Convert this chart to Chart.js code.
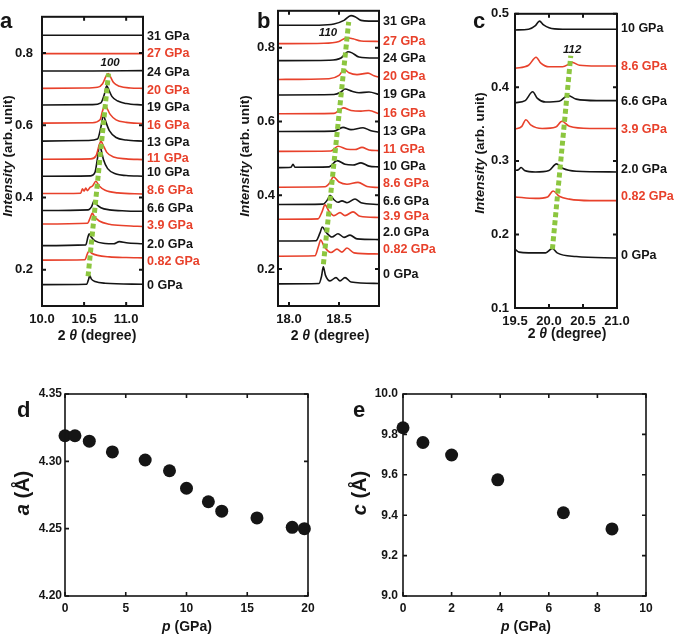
<!DOCTYPE html>
<html>
<head>
<meta charset="utf-8">
<script src="https://cdn.jsdelivr.net/npm/chart.js@4"></script>
<style>
  body { margin: 0; background: #fff; }
  #wrap { position: relative; width: 675px; height: 634px; }
  canvas { position: absolute; left: 0; top: 0; }
</style>
</head>
<body>
<div id="wrap">
  <canvas id="pa" width="675" height="634"></canvas>
  <canvas id="pb" width="675" height="634"></canvas>
  <canvas id="pc" width="675" height="634"></canvas>
  <canvas id="pd" width="675" height="634"></canvas>
  <canvas id="pe" width="675" height="634"></canvas>
</div>
<script>
// ---- panel a : 100 reflection ----
const aNames = ['31 GPa','27 GPa','24 GPa','20 GPa','19 GPa','16 GPa','13 GPa','11 GPa','10 GPa','8.6 GPa','6.6 GPa','3.9 GPa','2.0 GPa','0.82 GPa','0 GPa'];
const aNameY = [0.844,0.798,0.747,0.697,0.649,0.599,0.552,0.509,0.468,0.419,0.369,0.323,0.271,0.223,0.156];
const aTraces = [
  [[10.0,0.849],[10.6,0.849],[11.2,0.849]],
  [[10.0,0.798],[10.6,0.798],[11.2,0.798]],
  [[10.0,0.750],[10.6,0.750],[11.2,0.751]],
  [[10.0,0.702],[10.5,0.703],[10.66,0.705],[10.72,0.715],[10.76,0.735],[10.785,0.743],[10.81,0.735],[10.85,0.718],[10.92,0.708],[11.05,0.703],[11.2,0.702]],
  [[10.0,0.656],[10.6,0.657],[10.7,0.662],[10.74,0.685],[10.77,0.709],[10.79,0.700],[10.83,0.680],[10.9,0.667],[11.0,0.660],[11.2,0.656]],
  [[10.0,0.606],[10.6,0.607],[10.69,0.615],[10.72,0.640],[10.748,0.656],[10.77,0.648],[10.81,0.630],[10.88,0.615],[11.0,0.608],[11.2,0.605]],
  [[10.0,0.556],[10.55,0.558],[10.66,0.562],[10.70,0.595],[10.73,0.628],[10.75,0.615],[10.80,0.585],[10.88,0.566],[11.0,0.559],[11.2,0.556]],
  [[10.0,0.506],[10.58,0.507],[10.64,0.515],[10.68,0.545],[10.70,0.556],[10.72,0.548],[10.77,0.525],[10.85,0.512],[11.0,0.507],[11.2,0.505]],
  [[10.0,0.459],[10.58,0.460],[10.63,0.470],[10.66,0.510],[10.685,0.547],[10.70,0.535],[10.73,0.505],[10.78,0.480],[10.88,0.465],[11.0,0.461],[11.2,0.459]],
  [[10.0,0.411],[10.46,0.412],[10.48,0.424],[10.50,0.418],[10.52,0.426],[10.54,0.419],[10.57,0.428],[10.60,0.432],[10.64,0.445],[10.68,0.432],[10.75,0.420],[10.9,0.413],[11.2,0.410]],
  [[10.0,0.364],[10.55,0.366],[10.59,0.375],[10.618,0.390],[10.64,0.383],[10.70,0.372],[10.8,0.366],[11.0,0.363],[11.2,0.362]],
  [[10.0,0.327],[10.54,0.329],[10.575,0.345],[10.598,0.357],[10.62,0.348],[10.68,0.335],[10.8,0.326],[11.0,0.322],[11.2,0.320]],
  [[10.0,0.267],[10.52,0.269],[10.545,0.290],[10.56,0.300],[10.58,0.292],[10.63,0.280],[10.75,0.273],[10.85,0.272],[10.92,0.278],[11.0,0.275],[11.2,0.272]],
  [[10.0,0.227],[10.51,0.228],[10.54,0.245],[10.56,0.252],[10.59,0.246],[10.66,0.240],[10.8,0.236],[11.0,0.234],[11.2,0.233]],
  [[10.0,0.159],[10.53,0.160],[10.555,0.175],[10.567,0.184],[10.585,0.175],[10.63,0.168],[10.75,0.163],[11.2,0.160]]
];
const aGuide = [[10.547,0.182],[10.79,0.743]];
const aXTicks = [10.0, 10.5, 11.0];
const aYTicks = [0.2, 0.4, 0.6, 0.8];

// ---- panel b : 110 reflection ----
const bNames = aNames;
const bNameY = [0.870,0.817,0.771,0.721,0.673,0.621,0.573,0.523,0.479,0.433,0.383,0.343,0.300,0.254,0.184];
const bTraces = [
  [[17.9,0.861],[18.3,0.861],[18.45,0.864],[18.55,0.874],[18.62,0.887],[18.66,0.884],[18.72,0.874],[18.8,0.872],[18.9,0.872]],
  [[17.9,0.811],[18.35,0.812],[18.5,0.817],[18.58,0.827],[18.64,0.824],[18.72,0.818],[18.9,0.817]],
  [[17.9,0.765],[18.4,0.766],[18.52,0.772],[18.59,0.789],[18.63,0.786],[18.7,0.775],[18.9,0.772]],
  [[17.9,0.714],[18.4,0.716],[18.5,0.725],[18.553,0.741],[18.6,0.732],[18.68,0.727],[18.79,0.731],[18.85,0.724],[18.9,0.720]],
  [[17.9,0.672],[18.45,0.673],[18.52,0.680],[18.56,0.688],[18.63,0.682],[18.7,0.678],[18.8,0.680],[18.9,0.673]],
  [[17.9,0.621],[18.45,0.622],[18.5,0.630],[18.543,0.637],[18.62,0.630],[18.72,0.628],[18.8,0.630],[18.9,0.621]],
  [[17.9,0.573],[18.45,0.574],[18.54,0.584],[18.62,0.578],[18.74,0.583],[18.82,0.575],[18.9,0.571]],
  [[17.9,0.519],[18.42,0.520],[18.49,0.533],[18.58,0.525],[18.66,0.524],[18.73,0.530],[18.8,0.523],[18.9,0.521]],
  [[17.9,0.475],[18.02,0.476],[18.04,0.484],[18.06,0.476],[18.4,0.477],[18.48,0.494],[18.56,0.484],[18.64,0.482],[18.72,0.488],[18.8,0.479],[18.9,0.477]],
  [[17.9,0.422],[18.36,0.423],[18.41,0.435],[18.443,0.450],[18.5,0.436],[18.58,0.430],[18.69,0.435],[18.78,0.424],[18.9,0.421]],
  [[17.9,0.375],[18.34,0.376],[18.385,0.388],[18.41,0.400],[18.45,0.388],[18.49,0.381],[18.53,0.385],[18.58,0.380],[18.66,0.390],[18.72,0.380],[18.9,0.375]],
  [[17.9,0.335],[18.29,0.336],[18.33,0.355],[18.36,0.374],[18.4,0.357],[18.45,0.345],[18.51,0.353],[18.56,0.345],[18.64,0.355],[18.71,0.343],[18.9,0.340]],
  [[17.9,0.276],[18.27,0.277],[18.31,0.298],[18.333,0.314],[18.37,0.300],[18.43,0.287],[18.49,0.296],[18.55,0.286],[18.61,0.292],[18.68,0.282],[18.9,0.280]],
  [[17.9,0.235],[18.26,0.236],[18.295,0.262],[18.317,0.279],[18.35,0.262],[18.42,0.245],[18.48,0.254],[18.53,0.246],[18.58,0.257],[18.65,0.244],[18.9,0.241]],
  [[17.9,0.160],[18.3,0.161],[18.325,0.180],[18.343,0.206],[18.365,0.183],[18.41,0.168],[18.47,0.177],[18.51,0.168],[18.56,0.177],[18.62,0.165],[18.9,0.161]]
];
const bGuide = [[18.344,0.213],[18.597,0.870]];
const bXTicks = [18.0, 18.5];
const bYTicks = [0.2, 0.4, 0.6, 0.8];

// ---- panel c : 112 reflection ----
const cNames = ['10 GPa','8.6 GPa','6.6 GPa','3.9 GPa','2.0 GPa','0.82 GPa','0 GPa'];
const cNameY = [0.480,0.428,0.381,0.343,0.288,0.252,0.171];
const cTraces = [
  [[19.5,0.478],[19.7,0.479],[19.8,0.484],[19.86,0.490],[19.92,0.485],[20.0,0.481],[20.2,0.479],[21.0,0.479]],
  [[19.5,0.426],[19.7,0.430],[19.81,0.441],[19.88,0.433],[20.0,0.428],[20.2,0.428],[20.3,0.432],[20.34,0.434],[20.45,0.430],[20.7,0.429],[21.0,0.429]],
  [[19.5,0.379],[19.65,0.382],[19.76,0.394],[19.83,0.385],[19.95,0.380],[20.15,0.381],[20.28,0.389],[20.4,0.384],[20.7,0.382],[21.0,0.382]],
  [[19.5,0.343],[19.6,0.347],[19.66,0.356],[19.73,0.349],[19.9,0.344],[20.1,0.346],[20.19,0.354],[20.3,0.347],[20.6,0.344],[21.0,0.344]],
  [[19.5,0.287],[19.55,0.288],[19.59,0.291],[19.64,0.287],[19.8,0.285],[20.0,0.287],[20.11,0.296],[20.2,0.290],[20.4,0.286],[21.0,0.285]],
  [[19.5,0.251],[19.8,0.249],[19.98,0.251],[20.06,0.259],[20.15,0.252],[20.3,0.248],[20.6,0.246],[21.0,0.246]],
  [[19.5,0.180],[19.56,0.176],[19.7,0.175],[19.95,0.175],[20.05,0.181],[20.12,0.175],[20.4,0.170],[21.0,0.168]]
];
const cGuide = [[20.05,0.180],[20.32,0.443]];
const cXTicks = [19.5, 20.0, 20.5, 21.0];
const cYTicks = [0.1, 0.2, 0.3, 0.4, 0.5];

// ---- panel d : lattice a vs p ----
const dPressure = [0, 0.82, 2.0, 3.9, 6.6, 8.6, 10.0, 11.8, 12.9, 15.8, 18.7, 19.7];
const dLatticeA = [4.319, 4.319, 4.315, 4.307, 4.301, 4.293, 4.280, 4.270, 4.263, 4.258, 4.251, 4.250];
const dXTicks = [0, 5, 10, 15, 20];
const dYTicks = [4.20, 4.25, 4.30, 4.35];

// ---- panel e : lattice c vs p ----
const ePressure = [0, 0.82, 2.0, 3.9, 6.6, 8.6];
const eLatticeC = [9.833, 9.760, 9.698, 9.575, 9.412, 9.332];
const eXTicks = [0, 2, 4, 6, 8, 10];
const eYTicks = [9.0, 9.2, 9.4, 9.6, 9.8, 10.0];

const FONT = '"Liberation Sans", Arial, Helvetica, sans-serif';
const BLACK = '#151515', RED = '#e8412b', GREEN = '#8cc63f';

function richText(ctx, parts, x, y, rotate) {
  ctx.save();
  ctx.translate(x, y);
  if (rotate) ctx.rotate(-Math.PI / 2);
  let w = 0;
  parts.forEach(p => { ctx.font = p[1]; w += ctx.measureText(p[0]).width; });
  let cx = -w / 2;
  ctx.textBaseline = 'middle';
  ctx.textAlign = 'left';
  ctx.fillStyle = BLACK;
  parts.forEach(p => { ctx.font = p[1]; ctx.fillText(p[0], cx, 0); cx += ctx.measureText(p[0]).width; });
  ctx.restore();
}

// box, inward ticks, trace names, titles, panel letter
const framePlugin = {
  id: 'frame',
  afterDraw(chart, args, o) {
    const ctx = chart.ctx, a = chart.chartArea;
    const xs = chart.scales.x, ys = chart.scales.y;
    ctx.save();
    ctx.strokeStyle = BLACK;
    ctx.lineWidth = o.lw;
    ctx.strokeRect(a.left, a.top, a.right - a.left, a.bottom - a.top);
    ctx.beginPath();
    xs.ticks.forEach(t => {
      const px = xs.getPixelForValue(t.value);
      ctx.moveTo(px, a.bottom); ctx.lineTo(px, a.bottom - o.tick);
      ctx.moveTo(px, a.top); ctx.lineTo(px, a.top + o.tick);
    });
    ys.ticks.forEach(t => {
      const py = ys.getPixelForValue(t.value);
      ctx.moveTo(a.left, py); ctx.lineTo(a.left + o.tick, py);
      ctx.moveTo(a.right, py); ctx.lineTo(a.right - o.tick, py);
    });
    ctx.stroke();
    if (o.names) {
      ctx.font = 'bold 12.5px ' + FONT;
      ctx.textBaseline = 'middle';
      ctx.textAlign = 'left';
      o.names.forEach((n, i) => {
        ctx.fillStyle = i % 2 ? RED : BLACK;
        ctx.fillText(n, a.right + 4, ys.getPixelForValue(o.nameY[i]));
      });
    }
    if (o.hkl) {
      ctx.font = 'italic bold 11.5px ' + FONT;
      ctx.fillStyle = BLACK;
      ctx.textAlign = 'center';
      ctx.textBaseline = 'middle';
      ctx.fillText(o.hkl[0], xs.getPixelForValue(o.hkl[1]), ys.getPixelForValue(o.hkl[2]));
    }
    ctx.font = 'bold 22px ' + FONT;
    ctx.fillStyle = BLACK;
    ctx.textAlign = 'left';
    ctx.textBaseline = 'alphabetic';
    ctx.fillText(o.letter[0], o.letter[1], o.letter[2]);
    richText(ctx, o.xTitle, o.xTitleAt[0], o.xTitleAt[1], false);
    richText(ctx, o.yTitle, o.yTitleAt[0], o.yTitleAt[1], true);
    ctx.restore();
  }
};

function makePanel(id, box, datasets, xr, yr, xTicks, yTicks, xDec, yDec, tickSize, xPad, yPad, frame) {
  const tickFont = { family: FONT, size: tickSize, weight: 'bold' };
  new Chart(document.getElementById(id), {
    type: 'line',
    data: { datasets },
    options: {
      responsive: false,
      animation: false,
      events: [],
      layout: { autoPadding: false, padding: { left: 0, top: box[1], right: 675 - box[2], bottom: 634 - box[3] - 30 } },
      plugins: { legend: { display: false }, tooltip: { enabled: false }, frame },
      scales: {
        x: {
          type: 'linear', min: xr[0], max: xr[1],
          grid: { display: false, drawTicks: false }, border: { display: false },
          afterBuildTicks: s => { s.ticks = xTicks.map(v => ({ value: v })); },
          afterFit: s => { s.height = 30; },
          ticks: { callback: v => v.toFixed(xDec), font: tickFont, color: BLACK, padding: xPad, maxRotation: 0, autoSkip: false }
        },
        y: {
          type: 'linear', min: yr[0], max: yr[1],
          grid: { display: false, drawTicks: false }, border: { display: false },
          afterBuildTicks: s => { s.ticks = yTicks.map(v => ({ value: v })); },
          afterFit: s => { s.width = box[0]; },
          ticks: { callback: v => v.toFixed(yDec), font: tickFont, color: BLACK, padding: yPad, autoSkip: false }
        }
      }
    },
    plugins: [framePlugin]
  });
}

function traceSets(traces, guide) {
  const sets = [{
    data: guide.map(p => ({ x: p[0], y: p[1] })),
    borderColor: GREEN, borderWidth: 5, borderDash: [5, 3], pointRadius: 0, order: 0
  }];
  traces.forEach((t, i) => sets.push({
    data: t.map(p => ({ x: p[0], y: p[1] })),
    borderColor: i % 2 ? RED : BLACK, borderWidth: 1.6, pointRadius: 0,
    cubicInterpolationMode: 'monotone', order: 1
  }));
  return sets;
}

function dotSet(xs, ys) {
  return [{
    data: xs.map((x, i) => ({ x, y: ys[i] })),
    showLine: false, clip: false, pointRadius: 6.5, pointBackgroundColor: BLACK, pointBorderWidth: 0
  }];
}

const intensityTitle = [['Intensity', 'italic bold 13.5px ' + FONT], [' (arb. unit)', 'bold 13.5px ' + FONT]];
const thetaTitle = [['2 ', 'bold 14px ' + FONT], ['\u03b8', 'italic bold 14px ' + FONT], [' (degree)', 'bold 14px ' + FONT]];
const pTitle = [['p', 'italic bold 14px ' + FONT], [' (GPa)', 'bold 14px ' + FONT]];

makePanel('pa', [42, 1, 143, 306], traceSets(aTraces, aGuide), [10.0, 11.2], [0.1, 0.9], aXTicks, aYTicks, 1, 1, 13, 6, 9,
  { lw: 2, tick: 4, names: aNames, nameY: aNameY, hkl: ['100', 10.81, 0.772], letter: ['a', 0, 28],
    xTitle: thetaTitle, xTitleAt: [97, 336], yTitle: intensityTitle, yTitleAt: [8, 156] });

makePanel('pb', [278, 1, 379, 306], traceSets(bTraces, bGuide), [17.89, 18.9], [0.1, 0.9], bXTicks, bYTicks, 1, 1, 13, 6, 3,
  { lw: 2, tick: 4, names: bNames, nameY: bNameY, hkl: ['110', 18.39, 0.839], letter: ['b', 257, 28],
    xTitle: thetaTitle, xTitleAt: [330, 336], yTitle: intensityTitle, yTitleAt: [245, 156] });

makePanel('pc', [515, 6, 617, 308], traceSets(cTraces, cGuide), [19.5, 21.0], [0.1, 0.5], cXTicks, cYTicks, 1, 1, 13, 6, 6,
  { lw: 2, tick: 4, names: cNames, nameY: cNameY, hkl: ['112', 20.34, 0.451], letter: ['c', 473, 28],
    xTitle: thetaTitle, xTitleAt: [567, 334], yTitle: intensityTitle, yTitleAt: [480, 153] });

makePanel('pd', [65, 394, 308, 596], dotSet(dPressure, dLatticeA), [0, 20], [4.20, 4.35], dXTicks, dYTicks, 0, 2, 12, 5, 3,
  { lw: 1.6, tick: 4, letter: ['d', 17, 417],
    xTitle: pTitle, xTitleAt: [187, 627], yTitle: [['a', 'italic bold 20px ' + FONT], [' (\u00c5)', 'bold 20px ' + FONT]], yTitleAt: [23, 493] });

makePanel('pe', [403, 394, 646, 596], dotSet(ePressure, eLatticeC), [0, 10], [9.0, 10.0], eXTicks, eYTicks, 0, 1, 12, 5, 5,
  { lw: 1.6, tick: 4, letter: ['e', 353, 417],
    xTitle: pTitle, xTitleAt: [526, 627], yTitle: [['c', 'italic bold 20px ' + FONT], [' (\u00c5)', 'bold 20px ' + FONT]], yTitleAt: [360, 493] });
</script>
</body>
</html>
